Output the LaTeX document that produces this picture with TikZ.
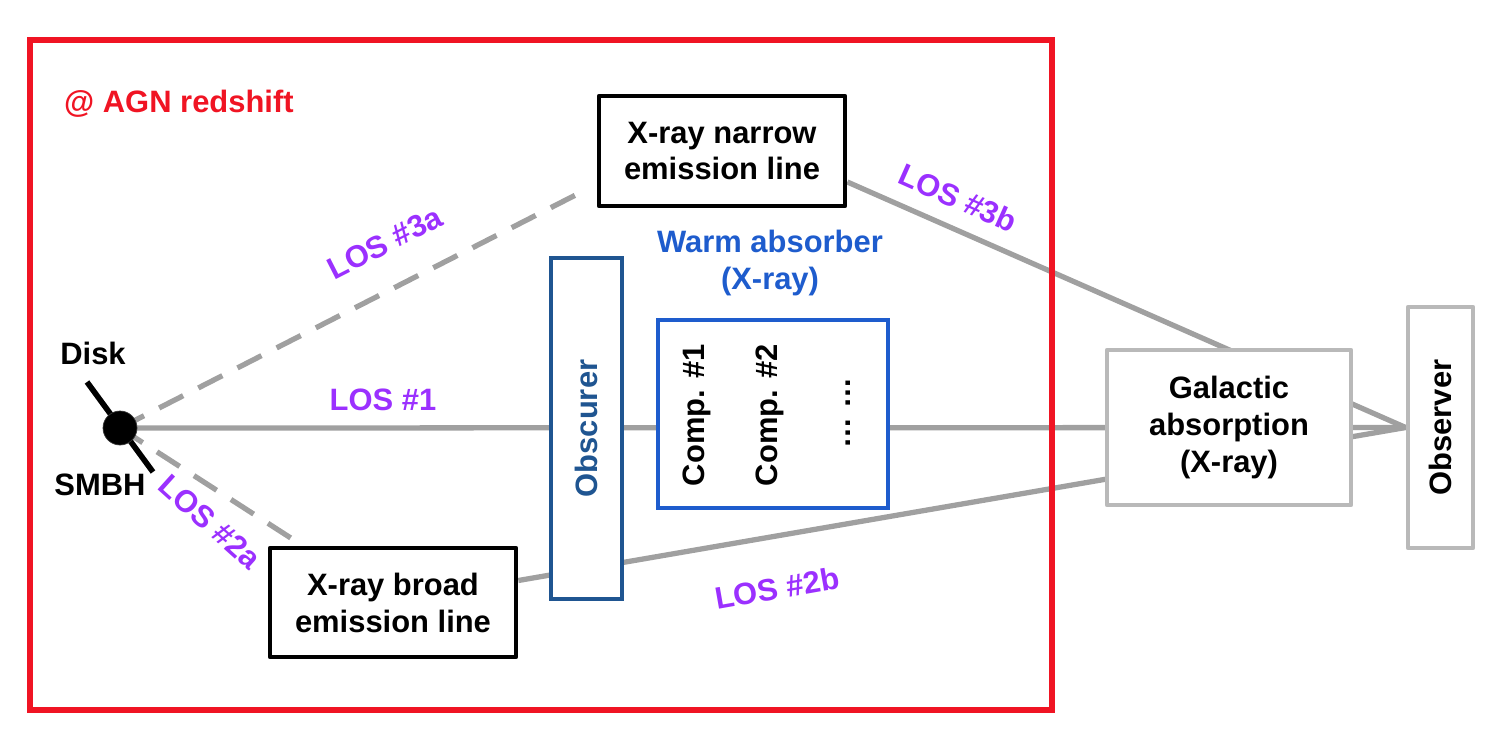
\documentclass[tikz,border=0pt]{standalone}
\usepackage{fontspec}
\setmainfont{Liberation Sans}
\usepackage{graphicx}
\usetikzlibrary{backgrounds}
\definecolor{agnred}{RGB}{240,20,35}
\definecolor{lospurple}{RGB}{155,48,255}
\definecolor{obsblue}{RGB}{31,85,145}
\definecolor{warmblue}{RGB}{30,92,205}
\definecolor{losgray}{RGB}{160,160,160}
\definecolor{boxgray}{RGB}{185,185,185}
\begin{document}
\begin{tikzpicture}[x=0.02cm, y=-0.02cm,
  every node/.style={font=\fontsize{17.6}{21}\selectfont\bfseries},
  blackbox/.style={draw=black, line width=2.7pt, fill=white, align=center, line join=round},
  graybox/.style={draw=boxgray, line width=2.7pt, fill=white, align=center, line join=round},
  los/.style={draw=losgray, line width=3pt},
  losdash/.style={los, dash pattern=on 0.54cm off 0.34cm},
  loslabel/.style={text=lospurple}]
\useasboundingbox (0,0) rectangle (1502,740);
\draw[agnred, line width=3pt] (30,40) rectangle (1052,710);
\node[text=agnred, anchor=west] (agn) at (58,104) {@ AGN redshift};

% emission regions and absorbers
\node[blackbox, minimum width=4.92cm, minimum height=2.2cm] (narrow) at (722,151) {X-ray narrow\\emission line};
\node[blackbox, minimum width=4.92cm, minimum height=2.18cm] (broad) at (393,602.5) {X-ray broad\\emission line};
\node[graybox, minimum width=4.88cm, minimum height=3.1cm] (galactic) at (1229,427.5) {Galactic\\absorption\\(X-ray)};
\node[graybox, minimum width=1.3cm, minimum height=4.82cm] (observer) at (1440.5,427.5) {\rotatebox{90}{Observer}};
\node[draw=obsblue, line width=2.7pt, fill=white, minimum width=1.42cm, minimum height=6.82cm] (obscurer) at (586.5,428.5) {\rotatebox{90}{\color{obsblue}Obscurer}};
\node[draw=warmblue, line width=2.7pt, fill=white, minimum width=4.6cm, minimum height=3.76cm] (warm) at (773,414) {};
\node[text=warmblue, align=center] (warmlabel) at (770,263) {Warm absorber\\(X-ray)};
\node[rotate=90] (comp1) at (697,415) {Comp. \#1};
\node[rotate=90] (comp2) at (770,415) {Comp. \#2};
\node[rotate=90] (compn) at (848,413) {\dots\ \dots};

% black hole with its disk
\node[circle, fill=black, draw=black!80, minimum size=0.68cm, inner sep=0pt] (smbh) at (120,428) {};
\node (disk) at (93,353) {Disk};
\node (smbhlabel) at (100,485) {SMBH};

% lines of sight
\begin{scope}[on background layer]
\draw[los] (smbh.center) -- (observer.west);
\draw[los] ([yshift=-0.62cm]narrow.east) -- (observer.west);
\draw[los] ([yshift=0.44cm]broad.east) -- (observer.west);
\draw[losdash] (smbh.center) -- ([xshift=-0.24cm,yshift=0.36cm]narrow.south west);
\draw[losdash] (smbh.center) -- ([xshift=0.7cm]broad.north west);
\draw[line width=3.2pt] ([shift={(-33,-46)}]smbh.center) -- ([shift={(33,44)}]smbh.center);
\end{scope}

\node[loslabel] (los1) at (383,400) {LOS \#1};
\node[loslabel, rotate=27] (los3a) at (385,243) {LOS \#3a};
\node[loslabel, rotate=-24] (los3b) at (958,198) {LOS \#3b};
\node[loslabel, rotate=-42] (los2a) at (210,522) {LOS \#2a};
\node[loslabel, rotate=10] (los2b) at (777,588) {LOS \#2b};
\end{tikzpicture}
\end{document}
